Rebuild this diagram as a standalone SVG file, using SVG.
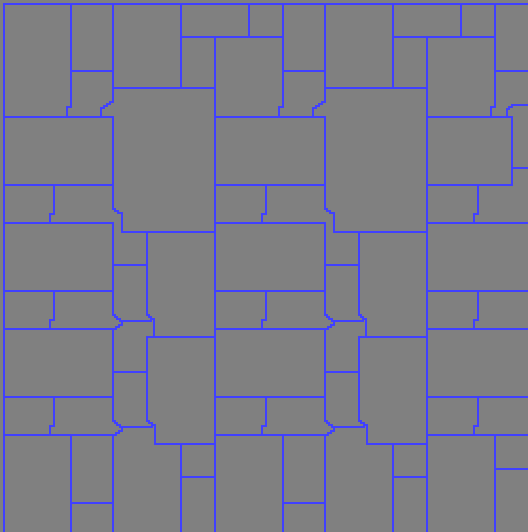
<svg xmlns="http://www.w3.org/2000/svg" xmlns:xlink="http://www.w3.org/1999/xlink" width="528" height="532" viewBox="0 0 528 532">
<style>
.l{fill:none;stroke:#4040ff;stroke-width:2;stroke-linecap:square;stroke-linejoin:miter;shape-rendering:crispEdges}
</style>
<rect x="0" y="0" width="528" height="532" fill="#808080"/>
<defs>
<g id="tile" class="l">
<path d="M71,4 V107 H67 V117"/>
<path d="M71,71 H113"/>
<path d="M113,4 V102 H110 V104 H107 V106 H104 V108 H101 V117"/>
<path d="M4,117 H113 V209 H115 V211 H118 V213 H122 V232 H215"/>
<path d="M181,4 V88"/>
<path d="M113,88 H215"/>
<path d="M181,37 H283"/>
<path d="M249,4 V37"/>
<path d="M215,37 V532"/>
<path d="M4,185 H113"/>
<path d="M54,185 V214 H50 V223"/>
<path d="M4,223 H113 V315 H115 V317 H117 V319 H120 V321 H151"/>
<path d="M147,232 V315 H149 V317 H151 V319 H154 V337"/>
<path d="M113,265 H147"/>
<path d="M4,291 H113"/>
<path d="M54,291 V320 H50 V329"/>
<path d="M4,329 H116 V327 H119 V325 H122 V321"/>
<path d="M113,329 V421 H115 V423 H117 V425 H120 V427 H152"/>
<path d="M147,337 H215"/>
<path d="M147,337 V421 H149 V423 H152 V425 H155 V444 H215"/>
<path d="M113,372 H147"/>
<path d="M4,397 H113"/>
<path d="M54,397 V426 H50 V435"/>
<path d="M4,435 H116 V433 H119 V431 H122 V427"/>
<path d="M113,435 V532"/>
<path d="M71,435 V532"/>
<path d="M71,503 H113"/>
<path d="M181,444 V532"/>
<path d="M181,477 H215"/>
</g>
</defs>
<g id="border" class="l">
<path d="M4,532 V4 H528"/>
</g>
<g id="period0"><use xlink:href="#tile"/></g>
<g id="period1"><use xlink:href="#tile" x="212"/></g>
<g id="period2" class="l">
<path d="M495,4 V107 H491 V117"/>
<path d="M495,71 H528"/>
<path d="M528,105 H512 V107 H509 V109 H507 V117"/>
<path d="M427,117 H512 V185"/>
<path d="M512,168 H528"/>
<path d="M427,185 H512"/>
<path d="M478,185 V214 H474 V223"/>
<path d="M427,223 H528"/>
<path d="M427,291 H528"/>
<path d="M478,291 V320 H474 V329"/>
<path d="M427,329 H528"/>
<path d="M427,397 H528"/>
<path d="M478,397 V426 H474 V435"/>
<path d="M427,435 H528"/>
<path d="M495,435 V532"/>
<path d="M495,469 H528"/>
</g>
</svg>
